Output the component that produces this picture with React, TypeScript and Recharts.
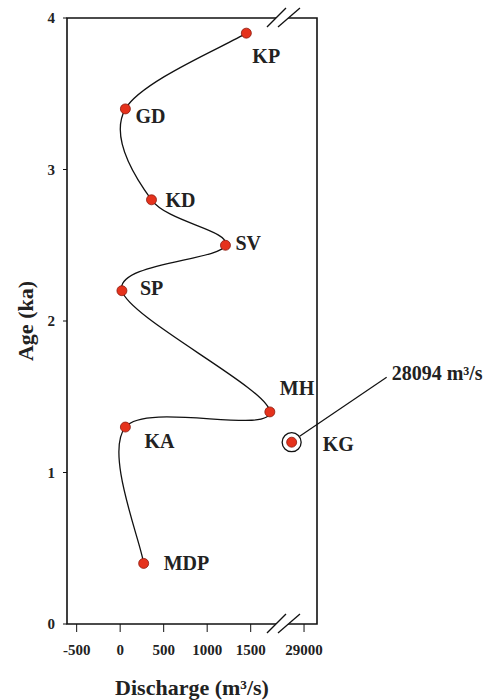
import React from 'react';
import {
    ComposedChart,
    Line,
    Scatter,
    XAxis,
    YAxis,
    ReferenceArea,
    ReferenceLine,
    Label
} from 'recharts';

// sites along the curve, ordered by age
const sites = ['MDP', 'KA', 'MH', 'SP', 'SV', 'KD', 'GD', 'KP'];
const ages = [0.4, 1.3, 1.4, 2.2, 2.5, 2.8, 3.4, 3.9];
const discharge = [270, 60, 1720, 20, 1210, 360, 60, 1450];

// the outlier, drawn past the axis break
const outlierSite = 'KG';
const outlierAge = 1.2;
const outlierDischarge = 28094;

const xTickValues = [-500, 0, 500, 1000, 1500, 29000];
const yTickValues = [0, 1, 2, 3, 4];

// broken x axis: values above the break are squeezed next to 1500
const BREAK_AT = 1871;
const toAxis = (q: number) => (q < 20000 ? q : 2113 + (q - 29000) * 0.157);

// label placement relative to each dot (px)
const labelOffsets: [number, number][] = [
    [20, 0], [19, 14], [10, -24], [18, -3], [10, -2], [14, 0], [10, 7], [6, 23]
];

const FONT = '"Liberation Serif", "Times New Roman", serif';
const DOT_FILL = '#e5321c';
const DOT_STROKE = '#8a1c10';

const curveData = sites.map((site, i) => ({ site, age: ages[i], q: discharge[i] }));
const outlierData = [{ site: outlierSite, age: outlierAge, q: outlierDischarge }];

// plain catmull-rom, the original looks like a smoothed spline through the points
const catmullRom = (context: any) => {
    let pts: [number, number][] = [];
    return {
        areaStart() {},
        areaEnd() {},
        lineStart() { pts = []; },
        point(x: number, y: number) { pts.push([+x, +y]); },
        lineEnd() {
            if (!pts.length) return;
            context.moveTo(pts[0][0], pts[0][1]);
            for (let i = 0; i < pts.length - 1; i++) {
                const p0 = pts[Math.max(i - 1, 0)];
                const p1 = pts[i];
                const p2 = pts[i + 1];
                const p3 = pts[Math.min(i + 2, pts.length - 1)];
                context.bezierCurveTo(
                    p1[0] + (p2[0] - p0[0]) / 6, p1[1] + (p2[1] - p0[1]) / 6,
                    p2[0] - (p3[0] - p1[0]) / 6, p2[1] - (p3[1] - p1[1]) / 6,
                    p2[0], p2[1]
                );
            }
        }
    };
};

const SiteDot = (props: any) => {
    const { cx, cy, index, payload } = props;
    const [dx, dy] = labelOffsets[index] || [10, 0];
    return (
        <g key={`dot-${index}`}>
            <circle cx={cx} cy={cy} r={5} fill={DOT_FILL} stroke={DOT_STROKE} strokeWidth={0.8} />
            <text x={cx + dx} y={cy + dy} dominantBaseline="central" fontFamily={FONT}
                fontWeight="bold" fontSize={20} fill="#222">{payload.site}</text>
        </g>
    );
};

const OutlierShape = (props: any) => {
    const { cx, cy, payload } = props;
    return (
        <g>
            <circle cx={cx} cy={cy} r={9.5} fill="#fff" stroke="#111" strokeWidth={1.3} />
            <circle cx={cx} cy={cy} r={5} fill={DOT_FILL} stroke={DOT_STROKE} strokeWidth={0.8} />
            <line x1={cx + 8} y1={cy - 6} x2={cx + 95} y2={cy - 65} stroke="#111" strokeWidth={1.2} />
            <text x={cx + 100} y={cy - 69} dominantBaseline="central" fontFamily={FONT}
                fontWeight="bold" fontSize={20} fill="#222">
                {payload.q} m³/s
            </text>
            <text x={cx + 31} y={cy + 2} dominantBaseline="central" fontFamily={FONT}
                fontWeight="bold" fontSize={20} fill="#222">{payload.site}</text>
        </g>
    );
};

// the // marks on the top and bottom border
const BreakMarks = (props: any) => {
    const { x1, y1, y2 } = props;
    const mark = (cy: number, key: string) => (
        <g key={key}>
            <polygon points={`${x1 - 16},${cy + 9} ${x1 + 3},${cy - 10} ${x1 + 17},${cy - 10} ${x1 - 5},${cy + 9}`} fill="#fff" />
            <line x1={x1 - 16} y1={cy + 9} x2={x1 + 3} y2={cy - 10} stroke="#111" strokeWidth={1.3} />
            <line x1={x1 - 5} y1={cy + 9} x2={x1 + 17} y2={cy - 10} stroke="#111" strokeWidth={1.3} />
        </g>
    );
    return <g>{mark(Math.min(y1, y2), 'top')}{mark(Math.max(y1, y2), 'bottom')}</g>;
};

const tickStyle = { fontSize: 15, fontWeight: 'bold', fill: '#222', fontFamily: FONT };

export default function App() {
    const xTicks = xTickValues.map(toAxis);
    return (
        <div style={{ position: 'absolute', left: 0, top: 0, width: 489, height: 700, background: '#fff', fontFamily: FONT }}>
            <ComposedChart width={489} height={700} margin={{ top: 18, right: 172, left: 0, bottom: 0 }}>
                <XAxis
                    type="number"
                    dataKey={(d: any) => toAxis(d.q)}
                    domain={[-611, 2262]}
                    ticks={xTicks}
                    tickFormatter={(v: number) => String(xTickValues[xTicks.indexOf(v)] ?? v)}
                    interval={0}
                    height={76}
                    tick={tickStyle}
                    tickSize={8}
                    tickMargin={12}
                    tickLine={{ stroke: '#111' }}
                    axisLine={false}
                >
                    <Label content={(p: any) => {
                        const vb = p.viewBox;
                        return (
                            <text x={vb.x + vb.width / 2} y={vb.y + 71} textAnchor="middle" fontFamily={FONT}
                                fontWeight="bold" fontSize={22} fill="#222">Discharge (m³/s)</text>
                        );
                    }} />
                </XAxis>
                <YAxis
                    type="number"
                    dataKey="age"
                    domain={[0, 4]}
                    ticks={yTickValues}
                    interval={0}
                    width={67}
                    tick={tickStyle}
                    tickSize={4}
                    tickMargin={8}
                    tickLine={{ stroke: '#111' }}
                    axisLine={false}
                >
                    <Label content={(p: any) => {
                        const vb = p.viewBox;
                        const cy = vb.y + vb.height / 2;
                        return (
                            <text x={25} y={cy} transform={`rotate(-90, 25, ${cy})`} textAnchor="middle"
                                dominantBaseline="central" fontFamily={FONT} fontWeight="bold" fontSize={22}
                                fill="#222">Age (ka)</text>
                        );
                    }} />
                </YAxis>
                <ReferenceArea x1={-611} x2={2262} y1={0} y2={4} fill="none" stroke="#111" strokeWidth={1.6} />
                <ReferenceLine x={BREAK_AT} shape={BreakMarks} />
                <Line
                    data={curveData}
                    dataKey="age"
                    type={catmullRom as any}
                    stroke="#111"
                    strokeWidth={1.3}
                    dot={SiteDot}
                    activeDot={false}
                    isAnimationActive={false}
                />
                <Scatter
                    data={outlierData}
                    dataKey="age"
                    shape={OutlierShape}
                    isAnimationActive={false}
                />
            </ComposedChart>
        </div>
    );
}
